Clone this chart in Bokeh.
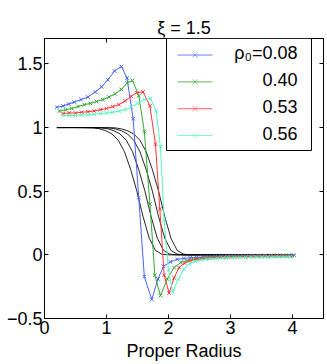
from bokeh.plotting import figure
from bokeh.models import Range1d, LinearAxis, FixedTicker, BoxAnnotation, PolyAnnotation, Label
from bokeh.embed import file_html
from bokeh.resources import INLINE

title_text = "ξ = 1.5"
x_label = "Proper Radius"
x_ticks = [0, 1, 2, 3, 4]
y_ticks = [-0.5, 0, 0.5, 1, 1.5]
y_tick_labels = ["−0.5", "0", "0.5", "1", "1.5"]
series_names = ["ρ₀=0.08", "0.40", "0.53", "0.56"]

blue_x = [0.20, 0.30, 0.39, 0.48, 0.59, 0.70, 0.82, 0.92, 1.02, 1.13,
          1.24, 1.33, 1.43, 1.52, 1.61, 1.73, 1.83, 1.92, 2.03, 2.14,
          2.25, 2.35, 2.45, 2.55, 2.65, 2.75, 2.85, 2.95, 3.05, 3.15,
          3.25, 3.35, 3.45, 3.55, 3.65, 3.75, 3.85, 3.95, 4.03]
blue_y = [1.16, 1.17, 1.185, 1.20, 1.22, 1.24, 1.28, 1.32, 1.375, 1.445,
          1.48, 1.39, 1.07, 0.45, -0.17, -0.35, -0.19, -0.09, -0.055, -0.035,
          -0.028, -0.023, -0.020, -0.017, -0.015, -0.013, -0.011, -0.010, -0.009, -0.008,
          -0.007, -0.006, -0.006, -0.005, -0.005, -0.004, -0.004, -0.003, -0.003]

green_x = [0.24, 0.34, 0.44, 0.54, 0.64, 0.74, 0.84, 0.94, 1.04, 1.14,
           1.24, 1.33, 1.42, 1.52, 1.61, 1.70, 1.78, 1.87, 1.98, 2.09,
           2.20, 2.30, 2.40, 2.50, 2.60, 2.70, 2.80, 2.90, 3.00, 3.10,
           3.20, 3.30, 3.40, 3.50, 3.60, 3.70, 3.80, 3.90, 4.00]
green_y = [1.13, 1.14, 1.15, 1.165, 1.18, 1.19, 1.205, 1.22, 1.24, 1.265,
           1.30, 1.35, 1.37, 1.25, 0.97, 0.40, -0.16, -0.32, -0.19, -0.10,
           -0.06, -0.045, -0.035, -0.028, -0.024, -0.020, -0.018, -0.016, -0.014, -0.013,
           -0.012, -0.011, -0.010, -0.009, -0.009, -0.008, -0.008, -0.007, -0.007]

red_x = [0.30, 0.40, 0.50, 0.60, 0.70, 0.80, 0.90, 1.00, 1.10, 1.20,
         1.30, 1.40, 1.49, 1.59, 1.70, 1.79, 1.86, 1.93, 2.01, 2.09,
         2.17, 2.26, 2.35, 2.44, 2.53, 2.62, 2.71, 2.80, 2.89, 2.98,
         3.07, 3.16, 3.25, 3.34, 3.43, 3.52, 3.61, 3.70, 3.79, 3.88, 3.97]
red_y = [1.11, 1.115, 1.115, 1.12, 1.125, 1.13, 1.14, 1.15, 1.165, 1.18,
         1.21, 1.245, 1.275, 1.28, 1.17, 0.87, 0.36, -0.16, -0.30, -0.18,
         -0.10, -0.065, -0.045, -0.036, -0.030, -0.026, -0.022, -0.020, -0.018, -0.016,
         -0.015, -0.014, -0.013, -0.012, -0.012, -0.011, -0.011, -0.010, -0.010, -0.010, -0.010]

cyan_x = [0.30, 0.40, 0.50, 0.60, 0.70, 0.80, 0.90, 1.00, 1.10, 1.20,
          1.30, 1.40, 1.50, 1.61, 1.71, 1.80, 1.87, 1.93, 2.00, 2.07,
          2.16, 2.25, 2.34, 2.43, 2.52, 2.61, 2.70, 2.79, 2.88, 2.97,
          3.06, 3.15, 3.24, 3.33, 3.42, 3.51, 3.60, 3.69, 3.78, 3.87, 3.96]
cyan_y = [1.095, 1.095, 1.095, 1.10, 1.10, 1.105, 1.11, 1.115, 1.12, 1.13,
          1.14, 1.16, 1.19, 1.22, 1.23, 1.13, 0.85, 0.27, -0.12, -0.29,
          -0.19, -0.11, -0.07, -0.05, -0.04, -0.034, -0.030, -0.027, -0.025, -0.023,
          -0.022, -0.021, -0.020, -0.019, -0.018, -0.018, -0.017, -0.017, -0.016, -0.016, -0.015]

black_y = [1.0, 1.0, 0.998, 0.99, 0.975, 0.95, 0.90, 0.81, 0.67, 0.50,
           0.30, 0.13, 0.035, 0.006, 0.0, 0.0, 0.0]
black1_x = [0.2, 0.5, 0.79, 0.89, 0.99, 1.09, 1.19, 1.29, 1.39, 1.49,
            1.59, 1.69, 1.79, 1.89, 1.99, 2.09, 4.0]
black2_x = [0.2, 0.6, 0.92, 1.02, 1.12, 1.22, 1.32, 1.42, 1.52, 1.62,
            1.72, 1.82, 1.92, 2.02, 2.12, 2.22, 4.0]
black3_x = [0.2, 0.7, 1.04, 1.14, 1.24, 1.34, 1.44, 1.54, 1.64, 1.74,
            1.84, 1.94, 2.04, 2.14, 2.24, 2.34, 4.0]
black4_x = [0.2, 0.8, 1.14, 1.24, 1.34, 1.44, 1.54, 1.64, 1.74, 1.84,
            1.94, 2.04, 2.14, 2.24, 2.34, 2.44, 4.0]

FONT = "Liberation Sans"
FS = "18px"

p = figure(width=327, height=364, output_backend="svg", toolbar_location=None,
           x_range=Range1d(0, 4.5), y_range=Range1d(-0.5, 1.7),
           min_border_left=44, min_border_right=4, min_border_top=38, min_border_bottom=46)
p.title.text = title_text
p.title.align = "center"
p.title.text_font = FONT
p.title.text_font_size = FS
p.title.text_font_style = "normal"
p.title.text_color = "black"
p.title.standoff = 2

p.xgrid.visible = False
p.ygrid.visible = False
p.outline_line_color = "black"
p.outline_line_alpha = 1.0

for ax in (p.xaxis[0], p.yaxis[0]):
    ax.major_tick_in = 4
    ax.major_tick_out = 0
    ax.minor_tick_in = 0
    ax.minor_tick_out = 0
    ax.axis_line_color = "black"
    ax.major_tick_line_color = "black"
    ax.major_label_text_font = FONT
    ax.major_label_text_font_size = FS
    ax.major_label_text_color = "black"
p.xaxis[0].ticker = FixedTicker(ticks=x_ticks)
p.yaxis[0].ticker = FixedTicker(ticks=y_ticks)
p.yaxis[0].major_label_overrides = {t: s for t, s in zip(y_ticks, y_tick_labels)}
p.xaxis[0].major_label_overrides = {t: str(t) for t in x_ticks}
p.xaxis[0].major_label_standoff = 2
p.yaxis[0].major_label_standoff = 2
p.xaxis[0].axis_label = x_label
p.xaxis[0].axis_label_text_font = FONT
p.xaxis[0].axis_label_text_font_size = FS
p.xaxis[0].axis_label_text_font_style = "normal"
p.xaxis[0].axis_label_text_color = "black"
p.xaxis[0].axis_label_standoff = 4

top_ax = LinearAxis(ticker=FixedTicker(ticks=x_ticks), major_tick_in=4, major_tick_out=0,
                    minor_tick_in=0, minor_tick_out=0, major_label_text_font_size="1px",
                    major_label_text_color=None, major_label_standoff=0, axis_line_color="black")
right_ax = LinearAxis(ticker=FixedTicker(ticks=y_ticks), major_tick_in=4, major_tick_out=0,
                      minor_tick_in=0, minor_tick_out=0, major_label_text_font_size="1px",
                      major_label_text_color=None, major_label_standoff=0, axis_line_color="black")
p.add_layout(top_ax, "above")
p.add_layout(right_ax, "right")

for bx in (black1_x, black2_x, black3_x, black4_x):
    p.line(bx, black_y, line_color="black", line_alpha=0.85, line_width=1)

colors = ["#4664ff", "#32aa32", "#ff3737", "#5af5c3"]
series = [(blue_x, blue_y), (green_x, green_y), (red_x, red_y), (cyan_x, cyan_y)]
for (sx, sy), c in zip(series, colors):
    p.line(sx, sy, line_color=c, line_width=1)
    p.scatter(sx, sy, marker="x", size=5, line_color=c, line_width=1)

# legend box (drawn as annotations in data space, placed at the upper right)
leg_left, leg_right, leg_top, leg_bottom = 1.968, 4.306, 1.7, 0.82
leg_x0, leg_x1 = 2.145, 2.71
leg_rows = [1.570, 1.359, 1.148, 0.9375]
leg_text_x = 4.08
mk_dx, mk_dy = 0.04, 0.02

p.add_layout(BoxAnnotation(left=leg_left, right=leg_right, top=leg_top, bottom=leg_bottom,
                           fill_color="white", fill_alpha=1.0, line_color="black",
                           line_alpha=1.0, line_width=1))
for yy, c, name in zip(leg_rows, colors, series_names):
    p.add_layout(PolyAnnotation(xs=[leg_x0, leg_x1], ys=[yy, yy], line_color=c,
                                line_alpha=0.8, line_width=1, fill_color=None))
    xm = (leg_x0 + leg_x1) / 2
    p.add_layout(PolyAnnotation(xs=[xm - mk_dx, xm + mk_dx, xm, xm + mk_dx, xm - mk_dx, xm],
                                ys=[yy + mk_dy, yy - mk_dy, yy, yy + mk_dy, yy - mk_dy, yy],
                                line_color=c, line_width=1, fill_color=None))
    p.add_layout(Label(x=leg_text_x, y=yy + 0.015, text=name, text_align="right",
                       text_baseline="middle", text_font=FONT, text_font_size=FS,
                       text_color="black"))

open("out.html", "w").write(file_html(p, INLINE))
